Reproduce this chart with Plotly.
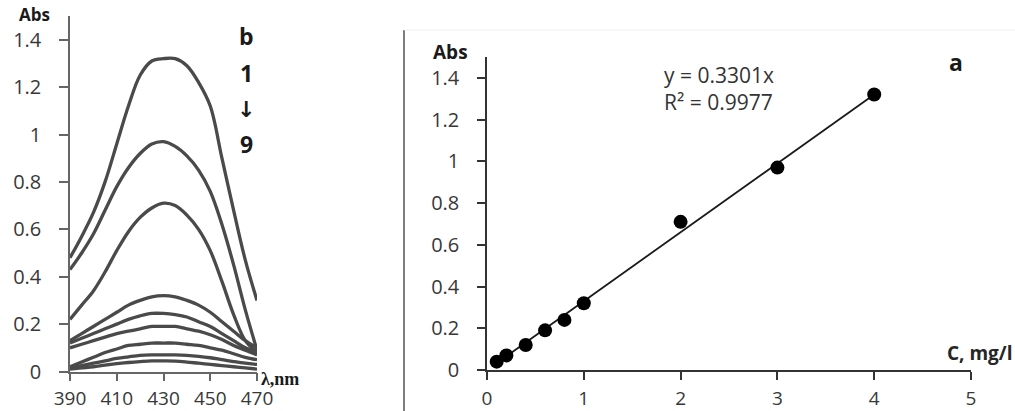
import plotly.graph_objects as go

# ---------------- data ----------------
wavelength_nm = [390, 395, 400, 405, 410, 415, 420, 425, 430, 435, 440, 445, 450, 455, 460, 465, 470]

abs_curve_1 = [0.48, 0.57, 0.67, 0.80, 0.96, 1.12, 1.25, 1.31, 1.32, 1.32, 1.29, 1.22, 1.12, 0.90, 0.68, 0.47, 0.30]
abs_curve_2 = [0.43, 0.50, 0.58, 0.68, 0.78, 0.86, 0.92, 0.96, 0.97, 0.95, 0.91, 0.85, 0.76, 0.62, 0.45, 0.26, 0.09]
abs_curve_3 = [0.22, 0.28, 0.34, 0.42, 0.51, 0.59, 0.65, 0.69, 0.71, 0.70, 0.66, 0.60, 0.51, 0.38, 0.24, 0.13, 0.08]
abs_curve_4 = [0.13, 0.16, 0.19, 0.22, 0.25, 0.28, 0.30, 0.315, 0.32, 0.315, 0.30, 0.28, 0.25, 0.21, 0.17, 0.13, 0.10]
abs_curve_5 = [0.12, 0.14, 0.16, 0.18, 0.20, 0.22, 0.235, 0.245, 0.245, 0.24, 0.23, 0.21, 0.19, 0.16, 0.13, 0.10, 0.08]
abs_curve_6 = [0.10, 0.115, 0.13, 0.145, 0.16, 0.17, 0.18, 0.19, 0.19, 0.19, 0.18, 0.17, 0.155, 0.135, 0.11, 0.09, 0.07]
abs_curve_7 = [0.02, 0.04, 0.06, 0.08, 0.095, 0.11, 0.115, 0.12, 0.12, 0.12, 0.115, 0.11, 0.10, 0.09, 0.075, 0.06, 0.05]
abs_curve_8 = [0.015, 0.025, 0.035, 0.045, 0.055, 0.062, 0.068, 0.07, 0.07, 0.07, 0.068, 0.064, 0.058, 0.05, 0.042, 0.035, 0.03]
abs_curve_9 = [0.01, 0.015, 0.02, 0.027, 0.033, 0.038, 0.042, 0.045, 0.045, 0.044, 0.04, 0.035, 0.03, 0.025, 0.02, 0.015, 0.01]

concentration_mg_l = [0.1, 0.2, 0.4, 0.6, 0.8, 1, 2, 3, 4]
absorbance = [0.04, 0.07, 0.12, 0.19, 0.24, 0.32, 0.71, 0.97, 1.32]
trend_slope = 0.3301
trend_label = "y = 0.3301x"
r2_label = "R² = 0.9977"

left_xticks = [390, 410, 430, 450, 470]
y_ticks = [0, 0.2, 0.4, 0.6, 0.8, 1, 1.2, 1.4]
y_ticktext = ["0", "0.2", "0.4", "0.6", "0.8", "1", "1.2", "1.4"]
right_xticks = [0, 1, 2, 3, 4, 5]

# ---------------- layout helpers ----------------
W, H = 1015, 411
def px(x):
    return x / W
def py(y):
    return 1 - y / H

FONT = "Open Sans"
TICK_COL = "#383838"

fig = go.Figure()

curves = [abs_curve_1, abs_curve_2, abs_curve_3, abs_curve_4, abs_curve_5,
          abs_curve_6, abs_curve_7, abs_curve_8, abs_curve_9]
for c in curves:
    fig.add_trace(go.Scatter(x=wavelength_nm, y=c, mode="lines",
                             line=dict(color="#4a4a4a", width=3.3, shape="spline", smoothing=1.0),
                             xaxis="x", yaxis="y", showlegend=False, hoverinfo="skip"))

# trendline
tx = [min(concentration_mg_l), max(concentration_mg_l)]
ty = [trend_slope * v for v in tx]
fig.add_trace(go.Scatter(x=tx, y=ty, mode="lines", line=dict(color="#1a1a1a", width=1.8),
                         xaxis="x2", yaxis="y2", showlegend=False, hoverinfo="skip"))
fig.add_trace(go.Scatter(x=concentration_mg_l, y=absorbance, mode="markers",
                         marker=dict(color="#000000", size=14),
                         xaxis="x2", yaxis="y2", showlegend=False, cliponaxis=False))

axis_common = dict(showgrid=False, zeroline=False, showline=True, ticks="outside", automargin=False)
y_font = dict(family=FONT, size=20, color=TICK_COL)
x_font = dict(family=FONT, size=19, color=TICK_COL)

fig.update_layout(
    template="none",
    width=W, height=H,
    margin=dict(l=0, r=0, t=0, b=0, pad=0),
    paper_bgcolor="white", plot_bgcolor="white",
    xaxis=dict(domain=[px(70), px(257)], range=[390, 470], tickvals=left_xticks, tickfont=x_font,
               linecolor="#666666", linewidth=1.5, tickcolor="#666666", ticklen=8, tickwidth=1.5,
               anchor="y", ticklabelstandoff=1, **axis_common),
    yaxis=dict(domain=[py(371.5), py(16)], range=[0, 1.5], tickvals=y_ticks, ticktext=y_ticktext,
               tickfont=y_font,
               linecolor="#666666", linewidth=1.5, tickcolor="#666666", ticklen=9, tickwidth=1.5,
               anchor="x", ticklabelstandoff=14, **axis_common),
    xaxis2=dict(domain=[px(487), px(971)], range=[0, 5], tickvals=right_xticks, tickfont=x_font,
                linecolor="#333333", linewidth=1.5, tickcolor="#333333", ticklen=8, tickwidth=1.5,
                anchor="y2", ticklabelstandoff=2, **axis_common),
    yaxis2=dict(domain=[py(370), py(57)], range=[0, 1.5], tickvals=y_ticks, ticktext=y_ticktext,
                tickfont=y_font,
                linecolor="#333333", linewidth=1.5, tickcolor="#333333", ticklen=8, tickwidth=1.5,
                anchor="x2", ticklabelstandoff=14, **axis_common),
)

def ann(text, x, y, size, bold=False, color="#262626", family=FONT, xanchor="center"):
    fig.add_annotation(text=f"<b>{text}</b>" if bold else text, x=px(x), y=py(y),
                       xref="paper", yref="paper", showarrow=False, xanchor=xanchor, yanchor="middle",
                       font=dict(family=family, size=size, color=color))

# left panel texts
ann("Abs", 34, 15, 17, bold=True, color="#1a1a1a")
ann("b", 246, 36, 23, bold=True, color="#1a1a1a")
ann("1", 246, 73, 23, bold=True, color="#1a1a1a")
ann("↓", 246, 109, 22, bold=True, color="#1a1a1a", family="DejaVu Sans")
ann("9", 246, 144, 23, bold=True, color="#1a1a1a")
ann("λ,nm", 259, 379, 18, bold=True, color="#1a1a1a", family="Liberation Serif", xanchor="left")

# right panel texts
ann("Abs", 450, 52, 19, bold=True, color="#1a1a1a")
ann("a", 956, 62, 23, bold=True, color="#1a1a1a")
ann(trend_label, 662, 75, 21, color="#333333", xanchor="left")
ann(r2_label, 662, 102, 21, color="#333333", xanchor="left")
ann("C, mg/l", 1015, 353, 19, bold=True, color="#262626", xanchor="right")

# separator lines of the second chart area
fig.add_shape(type="line", xref="paper", yref="paper", x0=px(404), x1=px(404), y0=py(30), y1=py(411),
              line=dict(color="#555555", width=1.5))
fig.add_shape(type="line", xref="paper", yref="paper", x0=px(404), x1=px(1015), y0=py(30), y1=py(30),
              line=dict(color="#eeeeee", width=1))

fig.write_html("out.html")
